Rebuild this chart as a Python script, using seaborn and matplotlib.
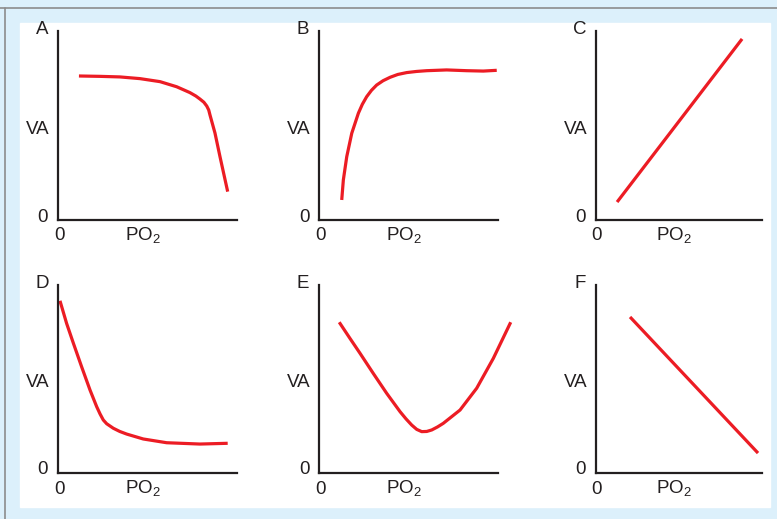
import matplotlib
matplotlib.use("Agg")
import matplotlib.pyplot as plt
import matplotlib.patches as mpatches
import matplotlib.lines as mlines
import seaborn as sns
import pandas as pd

sns.set_style("white")
plt.rcParams['font.family'] = ['Liberation Sans', 'DejaVu Sans']
plt.rcParams['mathtext.fontset'] = 'custom'
plt.rcParams['mathtext.rm'] = 'Liberation Sans'

# curves (x = PO2, y = VA, both on a 0-100 scale)
a_x = [11.7, 23.5, 34.6, 45.8, 57.0, 66.3, 73.7, 77.0, 79.3, 81.5, 83.1, 84.2, 84.9, 87.7, 90.5, 94.8]
a_y = [76.2, 76.0, 75.7, 74.8, 73.2, 70.5, 67.4, 65.6, 64.0, 62.3, 60.3, 58.2, 55.6, 46.0, 33.5, 15.0]

b_x = [12.7, 13.6, 15.5, 18.3, 22.0, 24.2, 26.6, 29.3, 32.2, 35.8, 39.7, 44.0, 49.0, 54.5, 60.2, 71.3, 82.5, 91.8, 99.3]
b_y = [10.6, 21.2, 33.5, 45.9, 56.5, 61.2, 65.2, 68.6, 71.4, 73.7, 75.5, 77.0, 78.0, 78.6, 79.0, 79.4, 79.0, 78.8, 79.2]

c_x = [12.7, 88.0]
c_y = [9.5, 95.8]

d_x = [1.1, 4.8, 8.6, 13.2, 17.9, 21.6, 23.5, 25.3, 27.2, 30.9, 34.5, 38.4, 47.6, 60.7, 79.3, 94.8]
d_y = [91.6, 79.6, 69.0, 56.5, 44.1, 35.3, 31.4, 28.2, 26.2, 23.8, 22.1, 20.7, 18.1, 16.1, 15.4, 15.8]

e_x = [11.3, 17.3, 22.9, 30.3, 37.8, 45.3, 48.6, 51.8, 54.6, 57.4, 60.2, 63.0, 66.2, 69.4, 78.8, 88.1, 97.4, 107.1]
e_y = [80.2, 71.6, 63.7, 53.0, 42.4, 32.6, 28.8, 25.5, 23.2, 22.0, 22.1, 22.9, 24.5, 26.4, 33.5, 45.1, 61.0, 80.2]

f_x = [20.5, 97.6]
f_y = [83.0, 10.6]

panels = ["A", "B", "C", "D", "E", "F"]
curves = [(a_x, a_y), (b_x, b_y), (c_x, c_y), (d_x, d_y), (e_x, e_y), (f_x, f_y)]

W, H = 777, 519
fig = plt.figure(figsize=(W / 100, H / 100), dpi=100)
fig.patch.set_facecolor('#dcf0fb')

# white card with thin grey frame lines
fig.patches.append(mpatches.Rectangle((20 / W, 1 - 507 / H), 750 / W, 484 / H,
                                      transform=fig.transFigure, color='white', zorder=-10))
fig.lines.append(mlines.Line2D([0, 1], [1 - 7.5 / H] * 2, transform=fig.transFigure,
                               color='#8c8c8c', lw=1.2, zorder=-5))
fig.lines.append(mlines.Line2D([4.5 / W] * 2, [0, 1 - 7.5 / H], transform=fig.transFigure,
                               color='#8c8c8c', lw=1.2, zorder=-5))

# axis boxes in pixels: left, right, top, bottom
cols = [(58, 237), (319, 498), (596, 762)]
rows = [(31, 220), (285, 473)]

def ftext(px, py, s, size=13.5):
    fig.text(px / W, 1 - py / H, s, ha='center', va='center', fontsize=size, color='#231f20')

for i, name in enumerate(panels):
    l, r = cols[i % 3]
    t, b = rows[i // 3]
    ax = fig.add_axes([l / W, 1 - b / H, (r - l) / W, (b - t) / H])
    ax.set_zorder(1)
    ax.patch.set_alpha(0)
    x, y = curves[i]
    df = pd.DataFrame({"PO2": x, "VA": y})
    sns.lineplot(data=df, x="PO2", y="VA", ax=ax, color='#ec1c24', lw=2.3,
                 sort=False, clip_on=False, solid_joinstyle='round',
                 solid_capstyle='butt')
    ax.set_xlim(0, 100)
    ax.set_ylim(0, 100)
    ax.set_xticks([])
    ax.set_yticks([])
    ax.set_xlabel("")
    ax.set_ylabel("")
    for s in ["top", "right"]:
        ax.spines[s].set_visible(False)
    for s in ["left", "bottom"]:
        ax.spines[s].set_color('#231f20')
        ax.spines[s].set_linewidth(1.6)

    # labels around each small plot
    ftext(l - 16, t - 1, name)
    ftext(l - 20, t + 0.52 * (b - t), "VA")
    ftext(l - 15, b - 3, "0")
    ftext(l + 1, b + 16, "0")
    ftext(l + 0.5 * (r - l) - 5, b + 16, r'PO$_\mathregular{2}$')

fig.savefig("out.png", dpi=100, facecolor=fig.get_facecolor())
